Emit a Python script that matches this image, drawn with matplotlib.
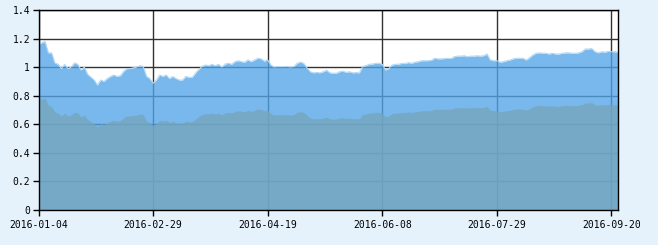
import numpy as np
import matplotlib
matplotlib.use("Agg")
import matplotlib.pyplot as plt

# Upper series
upper = [
    1.165, 1.170, 1.180, 1.100, 1.100, 1.030, 1.020, 0.990, 1.020, 0.990,
    1.000, 1.030, 1.020, 0.980, 1.000, 0.950, 0.930, 0.910, 0.875, 0.910,
    0.900, 0.920, 0.935, 0.945, 0.935, 0.940, 0.970, 0.990, 0.990, 0.995,
    1.000, 1.010, 1.005, 0.935, 0.920, 0.887, 0.910, 0.945, 0.935, 0.945,
    0.920, 0.935, 0.920, 0.910, 0.910, 0.935, 0.928, 0.930, 0.960, 0.985,
    1.005, 1.015, 1.010, 1.020, 1.010, 1.020, 1.000, 1.022, 1.027, 1.020,
    1.038, 1.045, 1.038, 1.035, 1.050, 1.038, 1.050, 1.062, 1.058, 1.042,
    1.050, 1.015, 1.000, 1.003, 1.003, 1.003, 1.005, 1.000, 1.003, 1.027,
    1.035, 1.027, 0.995, 0.968, 0.960, 0.963, 0.960, 0.968, 0.978, 0.960,
    0.957, 0.957, 0.968, 0.972, 0.963, 0.968, 0.960, 0.962, 0.960, 1.005,
    1.010, 1.020, 1.022, 1.027, 1.027, 1.020, 0.980, 0.990, 1.015, 1.020,
    1.020, 1.027, 1.025, 1.032, 1.027, 1.035, 1.038, 1.045, 1.045, 1.045,
    1.048, 1.062, 1.058, 1.058, 1.060, 1.062, 1.060, 1.073, 1.077, 1.077,
    1.080, 1.073, 1.077, 1.077, 1.080, 1.077, 1.080, 1.092, 1.050, 1.045,
    1.045, 1.035, 1.038, 1.045, 1.050, 1.058, 1.062, 1.062, 1.062, 1.050,
    1.066, 1.085, 1.097, 1.100, 1.097, 1.097, 1.092, 1.097, 1.092, 1.092,
    1.097, 1.100, 1.100, 1.097, 1.097, 1.100, 1.108, 1.127, 1.127, 1.130,
    1.108, 1.100, 1.108, 1.105, 1.110, 1.108, 1.108, 1.105,
]

# Lower series
lower = [
    0.775, 0.778, 0.785, 0.732, 0.725, 0.685, 0.678, 0.658, 0.678, 0.658,
    0.665, 0.685, 0.678, 0.652, 0.665, 0.632, 0.618, 0.605, 0.582, 0.605,
    0.599, 0.612, 0.622, 0.628, 0.622, 0.625, 0.645, 0.658, 0.658, 0.662,
    0.665, 0.672, 0.668, 0.622, 0.612, 0.590, 0.605, 0.628, 0.622, 0.628,
    0.612, 0.622, 0.612, 0.605, 0.605, 0.622, 0.617, 0.618, 0.638, 0.655,
    0.668, 0.675, 0.672, 0.678, 0.672, 0.678, 0.665, 0.680, 0.683, 0.678,
    0.690, 0.695, 0.690, 0.688, 0.698, 0.690, 0.698, 0.706, 0.704, 0.693,
    0.698, 0.675, 0.665, 0.667, 0.667, 0.667, 0.668, 0.665, 0.667, 0.683,
    0.688, 0.683, 0.662, 0.644, 0.638, 0.640, 0.638, 0.644, 0.650, 0.638,
    0.636, 0.636, 0.644, 0.646, 0.640, 0.644, 0.638, 0.640, 0.638, 0.668,
    0.672, 0.678, 0.680, 0.683, 0.683, 0.678, 0.652, 0.658, 0.675, 0.678,
    0.678, 0.683, 0.682, 0.686, 0.683, 0.688, 0.690, 0.695, 0.695, 0.695,
    0.697, 0.706, 0.704, 0.704, 0.705, 0.706, 0.705, 0.714, 0.716, 0.716,
    0.718, 0.714, 0.716, 0.716, 0.718, 0.716, 0.718, 0.726, 0.698, 0.695,
    0.695, 0.688, 0.690, 0.695, 0.698, 0.704, 0.706, 0.706, 0.706, 0.698,
    0.709, 0.722, 0.730, 0.732, 0.730, 0.730, 0.726, 0.730, 0.726, 0.726,
    0.730, 0.732, 0.732, 0.730, 0.730, 0.732, 0.737, 0.749, 0.749, 0.751,
    0.737, 0.732, 0.737, 0.735, 0.738, 0.737, 0.737, 0.735,
]

tick_labels = ["2016-01-04", "2016-02-29", "2016-04-19",
               "2016-06-08", "2016-07-29", "2016-09-20"]
y_ticks = [0, 0.2, 0.4, 0.6, 0.8, 1, 1.2, 1.4]
y_tick_labels = ["0", "0.2", "0.4", "0.6", "0.8", "1", "1.2", "1.4"]

x = np.arange(len(upper))
tick_step = 35
tick_pos = np.arange(len(tick_labels)) * tick_step

fig = plt.figure(figsize=(6.58, 2.45), dpi=100)
fig.patch.set_facecolor("#E6F2FB")
ax = fig.add_axes([38.5 / 658, 1 - 210 / 245, (618 - 38.5) / 658, 200 / 245])
ax.set_facecolor("white")

# grid first (under the semi-transparent areas)
for t in y_ticks:
    ax.axhline(t, color="#333333", lw=1.0, zorder=1)
for p in tick_pos:
    ax.axvline(p, color="#333333", lw=1.0, zorder=1)

ax.fill_between(x, 0, upper, color=(82/255, 164/255, 231/255), alpha=0.78,
                lw=0, zorder=2)
ax.plot(x, upper, color="#B5DAF6", lw=0.8, zorder=2.5)
ax.fill_between(x, 0, lower, color=(117/255, 165/255, 187/255), alpha=0.78,
                lw=0, zorder=3)

ax.set_xlim(0, len(upper) - 1)
ax.set_ylim(0, 1.4)
ax.set_xticks(tick_pos)
ax.set_xticklabels(tick_labels)
ax.set_yticks(y_ticks)
ax.set_yticklabels(y_tick_labels)

mono = "DejaVu Sans Mono"
for lab in ax.get_xticklabels() + ax.get_yticklabels():
    lab.set_fontfamily(mono)
    lab.set_fontsize(7)
    lab.set_color("black")

ax.tick_params(axis="both", direction="out", length=4, width=1, color="black",
               pad=2)
ax.tick_params(axis="x", pad=3)
for s in ax.spines.values():
    s.set_color("black")
    s.set_linewidth(1.0)
    s.set_zorder(5)

fig.savefig("out.png", dpi=100, facecolor=fig.get_facecolor())
